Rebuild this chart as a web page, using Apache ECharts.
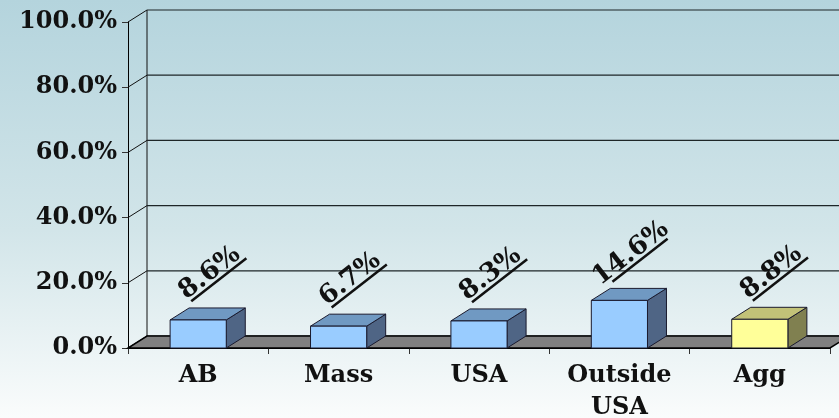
<!DOCTYPE html>
<html>
<head>
<meta charset="utf-8">
<script src="https://cdn.jsdelivr.net/npm/echarts@6/dist/echarts.min.js"></script>
<style>
html, body { margin: 0; padding: 0; }
#chart { width: 839px; height: 418px; }
</style>
</head>
<body>
<div id="chart"></div>
<script>
const categories = ['AB', 'Mass', 'USA', 'Outside\nUSA', 'Agg'];
const values = [8.6, 6.7, 8.3, 14.6, 8.8];
const yTicks = [0, 20, 40, 60, 80, 100];
const highlight = 'Agg';

// 3d depth offset of the back wall
const DX = 19, DY = -12;
const FONT = 'DejaVu Serif';
const blue = {front: '#99ccff', top: '#7099c2', side: '#4f6585'};
const yellow = {front: '#ffff99', top: '#c2c278', side: '#808050'};
const edge = '#1a1a2e';

const chart = echarts.init(document.getElementById('chart'));

const renderWalls = (params, api) => {
    const cs = params.coordSys;
    const v = api.value(1);
    const y = api.coord([0, v])[1];
    const left = cs.x, right = cs.x + cs.width;
    const children = [
        {type: 'line', shape: {x1: left, y1: y, x2: left + DX, y2: y + DY},
            style: {stroke: '#111', lineWidth: 1}},
        {type: 'line', shape: {x1: left + DX, y1: y + DY, x2: right + DX + 30, y2: y + DY},
            style: {stroke: '#1e2628', lineWidth: 1.2}},
    ];
    if (v === 0) {
        children.push({type: 'line',
            shape: {x1: left + DX, y1: y + DY, x2: left + DX, y2: cs.y + DY},
            style: {stroke: '#111', lineWidth: 1}});
    }
    return {type: 'group', children};
};

const renderFloor = (params, api) => {
    const cs = params.coordSys;
    const y0 = api.coord([0, 0])[1];
    const left = cs.x, right = cs.x + cs.width;
    return {
        type: 'polygon',
        shape: {points: [[left, y0], [right, y0], [right + DX, y0 + DY], [left + DX, y0 + DY]]},
        style: {fill: '#808080', stroke: '#000', lineWidth: 1.5},
    };
};

const renderBar = (params, api) => {
    const i = api.value(0);
    const v = api.value(1);
    const c0 = api.coord([i, 0]);
    const c1 = api.coord([i, v]);
    const bw = api.size([1, 0])[0] * 0.4;
    const x = c0[0] - bw / 2;
    const y0 = c0[1], y1 = c1[1];
    const pal = categories[i] === highlight ? yellow : blue;
    const st = fill => ({fill, stroke: edge, lineWidth: 1});
    const label = v.toFixed(1) + '%';
    return {
        type: 'group',
        children: [
            {type: 'polygon', shape: {points: [[x + bw, y0], [x + bw, y1], [x + bw + DX, y1 + DY], [x + bw + DX, y0 + DY]]},
                style: st(pal.side)},
            {type: 'polygon', shape: {points: [[x, y1], [x + bw, y1], [x + bw + DX, y1 + DY], [x + DX, y1 + DY]]},
                style: st(pal.top)},
            {type: 'rect', shape: {x, y: y1, width: bw, height: y0 - y1}, style: st(pal.front)},
            {
                type: 'group',
                x: c1[0] + 20,
                y: y1 - 41,
                rotation: 38 * Math.PI / 180,
                children: [
                    {type: 'text', x: -3, y: 3, style: {
                        text: label, fill: '#111', align: 'center', verticalAlign: 'bottom',
                        font: `bold 26px "${FONT}"`,
                    }},
                    {type: 'line', shape: {x1: -35, y1: 1, x2: 35, y2: 1},
                        style: {stroke: '#111', lineWidth: 2.5}},
                ],
            },
        ],
    };
};

chart.setOption({
    animation: false,
    backgroundColor: {
        type: 'linear', x: 0, y: 0, x2: 0, y2: 1,
        colorStops: [{offset: 0, color: '#b4d4dd'}, {offset: 0.55, color: '#d2e5e9'}, {offset: 1, color: '#fafcfc'}],
    },
    grid: {left: 128, right: 9, top: 22, bottom: 70, outerBoundsMode: 'none'},
    xAxis: {
        type: 'category',
        data: categories,
        boundaryGap: true,
        axisLine: {show: true, lineStyle: {color: '#000'}},
        axisTick: {show: true, length: 6, interval: 0, lineStyle: {color: '#333'}},
        axisLabel: {
            interval: 0, margin: 12, color: '#111',
            fontFamily: FONT, fontWeight: 'bold', fontSize: 24, lineHeight: 32,
        },
    },
    yAxis: {
        type: 'value',
        min: 0, max: 100, interval: 20,
        splitLine: {show: false},
        axisLine: {show: true, lineStyle: {color: '#000'}},
        axisTick: {show: true, length: 6, lineStyle: {color: '#333'}},
        axisLabel: {
            margin: 11, color: '#111',
            fontFamily: FONT, fontWeight: 'bold', fontSize: 24,
            formatter: v => v.toFixed(1) + '%',
        },
    },
    series: [
        {type: 'custom', z: 1, renderItem: renderWalls, data: yTicks.map(v => [0, v]), silent: true},
        {type: 'custom', z: 2, renderItem: renderFloor, data: [[0, 0]], silent: true},
        {type: 'custom', z: 3, renderItem: renderBar, data: values.map((v, i) => [i, v])},
    ],
});
</script>
</body>
</html>
